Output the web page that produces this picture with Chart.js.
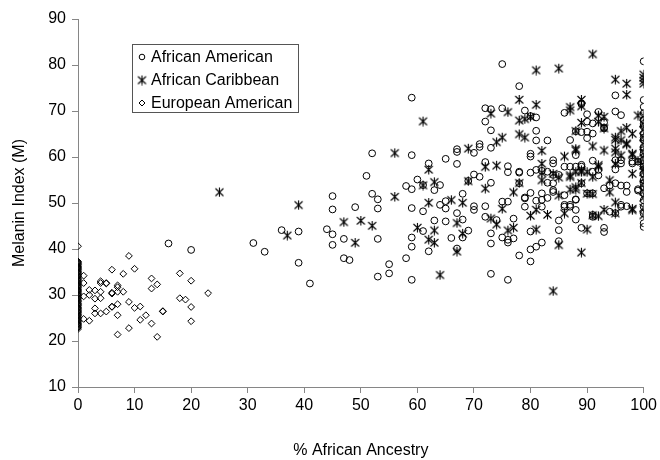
<!DOCTYPE html>
<html>
<head>
<meta charset="utf-8">
<script src="https://cdn.jsdelivr.net/npm/chart.js@4/dist/chart.umd.min.js"></script>
<style>
  html, body { margin: 0; padding: 0; background: #ffffff; }
  #wrap { width: 660px; height: 460px; position: relative; }
</style>
</head>
<body>
<div id="wrap"><canvas id="c" width="660" height="460"></canvas></div>
<script>
// ---- Data: [% African ancestry, Melanin index (M)] ----
const seriesNames = ["African American", "African Caribbean", "European American"];
const xTickValues = [0, 10, 20, 30, 40, 50, 60, 70, 80, 90, 100];
const yTickValues = [10, 20, 30, 40, 50, 60, 70, 80, 90];

const africanAmerican = [
  [16,41.2],[20,39.8],[31,41.3],[33,39.4],[36,44.1],[39,43.8],[39,37.0],[41,32.5],[44,44.3],
  [45,51.5],[45,48.6],[45,43.2],[45,40.9],[47,42.2],[47,38.0],[48,37.6],[49,49.1],[51,55.9],
  [52,60.8],[52,52.0],[53,50.8],[53,48.8],[53,42.2],[53,34.0],[55,36.7],[55,34.7],[58,38.0],
  [58,53.7],[59,72.9],[59,60.4],[59,53.0],[59,48.9],[59,42.5],[59,40.5],[59,33.3],[60,55.1],
  [61,48.2],[61,53.9],[61,43.9],[62,58.6],[62,39.5],[63,52.8],[63,46.2],[64,53.9],[64,49.6],
  [65,59.6],[65,50.4],[65,48.8],[65,46.0],[66,42.4],[67,61.7],[67,61.1],[67,58.5],[67,47.8],
  [67,40.1],[68,52.0],[68,46.4],[68,42.5],[69,54.8],[69,44.0],[70,60.9],[70,56.2],[70,49.3],
  [70,48.5],[71,62.8],[71,62.2],[71,55.7],[72,70.6],[72,67.7],[72,58.9],[72,49.3],[72,47.0],
  [73,70.4],[73,65.8],[73,62.0],[73,54.4],[73,43.4],[73,41.2],[73,34.6],[74,46.3],[75,80.2],
  [75,70.6],[75,50.3],[75,42.5],[76,58.0],[76,56.7],[76,50.3],[76,42.0],[76,41.4],[76,33.3],
  [77,46.6],[77,42.3],[78,75.4],[78,56.6],[78,38.6],[78,56.8],[78,54.3],[79,70.1],[79,51.2],
  [79,49.2],[79,51.0],[80,60.7],[80,60.1],[80,52.2],[80,43.8],[80,39.9],[80,37.3],[80,68.9],
  [80,56.6],[81,68.6],[81,65.7],[81,63.6],[81,50.5],[81,40.5],[81,57.2],[82,57.0],[82,52.1],
  [82,41.4],[82,50.7],[82,49.2],[83,63.6],[83,54.4],[83,51.1],[83,56.8],[84,59.3],[84,58.6],
  [84,52.4],[84,56.1],[84,54.3],[84,52.8],[85,46.2],[85,44.1],[85,41.7],[85,56.1],[86,69.6],
  [86,49.6],[86,57.9],[86,51.7],[86,49.2],[87,63.7],[87,57.9],[87,49.2],[87,49.6],[88,65.6],
  [88,60.4],[88,50.8],[88,46.4],[88,57.9],[88,48.5],[88,50.7],[89,71.5],[89,65.4],[89,57.9],
  [89,44.6],[89,58.3],[89,54.3],[89,71.7],[90,69.3],[90,64.1],[90,52.1],[90,65.5],[90,67.7],
  [91,67.3],[91,65.1],[91,59.2],[91,47.0],[91,56.8],[91,52.1],[91,47.4],[92,56.0],[92,57.2],
  [92,69.8],[93,66.4],[93,44.6],[93,43.7],[93,53.2],[93,67.5],[93,66.2],[94,53.8],[94,48.1],
  [95,73.4],[95,69.9],[95,59.3],[95,57.3],[95,47.8],[95,54.3],[96,69.1],[96,58.6],[96,53.8],
  [96,49.2],[96,49.6],[96,59.3],[97,53.8],[97,52.4],[97,49.3],[98,58.6],[98,59.0],[99,52.7],
  [99,59.0],[99,53.0],
  [100,80.8],[100,72.4],[100,70.9],[100,69.5],[100,68.0],[100,66.6],[100,65.1],[100,63.7],
  [100,62.2],[100,60.8],[100,59.3],[100,57.9],[100,56.4],[100,55.0],[100,53.5],[100,52.1],
  [100,50.6],[100,49.2],[100,47.7],[100,44.8],[100,61.5],[100,58.5],[100,64.2],[100,45.6],
  [100,67.2],[100,54.3]
];

const africanCaribbean = [
  [25,52.4],[37,43.0],[39,49.6],[47,45.9],[49,41.4],[50,46.2],[52,45.1],[56,60.9],[56,51.4],
  [60,44.7],[61,67.8],[61,53.9],[62,57.3],[62,50.1],[62,42.1],[63,54.6],[63,44.1],[63,41.4],
  [64,34.4],[66,50.7],[67,45.7],[67,39.5],[68,50.1],[68,43.4],[69,61.9],[69,54.8],[72,57.9],
  [72,53.2],[73,69.5],[73,46.7],[74,58.2],[74,45.4],[74,63.3],[75,64.3],[75,48.8],[76,69.8],
  [76,44.1],[77,52.4],[77,44.7],[78,72.5],[78,68.0],[78,65.0],[78,54.4],[79,64.3],[79,68.3],
  [80,68.8],[80,47.3],[81,78.9],[81,71.4],[81,48.6],[81,44.3],[82,61.4],[82,58.6],[82,55.0],
  [82,56.6],[83,47.5],[84,56.4],[84,30.9],[85,79.3],[85,55.6],[85,51.7],[85,40.9],[86,60.2],
  [86,47.8],[87,70.9],[87,55.7],[87,70.2],[87,53.0],[87,56.1],[88,65.7],[88,61.8],[88,53.0],
  [88,61.5],[88,56.8],[88,53.5],[89,72.5],[89,67.5],[89,56.8],[89,54.4],[89,39.3],[89,71.1],
  [89,57.2],[90,44.3],[90,56.8],[90,52.1],[91,82.4],[91,62.4],[91,55.7],[91,52.0],[91,47.4],
  [92,69.1],[92,57.9],[92,47.2],[92,67.7],[92,58.3],[93,61.5],[93,66.3],[93,48.6],[93,68.8],
  [94,55.0],[94,52.4],[95,76.9],[95,63.8],[95,61.1],[95,50.2],[95,47.8],[95,64.3],[95,61.9],
  [95,58.6],[96,63.7],[96,65.7],[96,60.4],[97,76.0],[97,73.6],[97,66.4],[97,62.8],[97,63.0],
  [98,65.1],[98,60.5],[98,56.4],[98,48.8],[98,48.5],[98,60.8],[99,69.1],[99,59.2],
  [100,78.0],[100,77.3],[100,76.6],[100,76.0],[100,69.0],[100,66.0],[100,64.4],[100,62.9],
  [100,61.0],[100,59.8],[100,58.2],[100,56.8],[100,55.4],[100,54.1],[100,52.6],[100,51.2],
  [100,49.0],[100,47.4],[100,57.3],[100,67.3]
];

const europeanAmerican = [
  [0,40.6],[0,37.3],[0,37.1],[0,36.9],[0,36.7],[0,36.5],[0,36.2],[0,36.0],[0,35.8],[0,35.6],
  [0,35.4],[0,35.1],[0,34.9],[0,34.7],[0,34.4],[0,34.2],[0,34.0],[0,33.7],[0,33.5],[0,33.3],
  [0,33.1],[0,32.8],[0,32.6],[0,32.4],[0,32.1],[0,31.9],[0,31.7],[0,31.5],[0,31.2],[0,31.0],
  [0,30.8],[0,30.6],[0,30.3],[0,30.1],[0,29.9],[0,29.6],[0,29.4],[0,29.2],[0,28.9],[0,28.7],
  [0,28.5],[0,28.2],[0,28.0],[0,27.8],[0,27.6],[0,27.3],[0,27.1],[0,26.9],[0,26.6],[0,26.4],
  [0,26.2],[0,25.9],[0,25.7],[0,25.5],[0,25.2],[0,25.0],[0,24.8],[0,24.5],[0,24.3],[0,24.1],
  [0,23.8],[0,23.6],[0,23.4],[0,23.1],[0,22.9],[0,22.6],
  [1,34.2],[1,32.6],[1,29.7],[1,24.8],[2,31.1],[2,30.0],[2,24.4],[3,31.0],[3,29.2],[3,27.1],
  [3,26.0],[4,33.0],[4,32.6],[4,30.7],[4,29.3],[4,26.0],[5,32.6],[5,32.5],[5,26.4],[6,35.5],
  [6,30.3],[6,30.5],[6,27.5],[6,27.4],[7,32.1],[7,31.7],[7,30.7],[7,28.0],[7,25.6],[7,21.4],
  [8,34.6],[8,30.7],[9,38.5],[9,28.5],[9,22.8],[10,35.7],[10,27.2],[11,27.5],[11,24.6],
  [12,25.6],[13,33.6],[13,31.4],[13,23.8],[14,32.3],[14,20.9],[15,26.4],[15,26.5],[18,34.7],
  [18,29.3],[19,29.0],[20,33.1],[20,27.4],[20,24.3],[23,30.4]
];

// ---- Marker for African Caribbean (X with a vertical bar) ----
function makeAsterisk() {
  const c = document.createElement('canvas');
  c.width = 11; c.height = 11;
  const g = c.getContext('2d');
  g.strokeStyle = '#000';
  g.lineWidth = 1.1;
  g.lineCap = 'butt';
  g.beginPath();
  g.moveTo(1.5, 2); g.lineTo(9.5, 9.5);
  g.moveTo(9.5, 2); g.lineTo(1.5, 9.5);
  g.moveTo(5.5, 1); g.lineTo(5.5, 10.5);
  g.stroke();
  return c;
}
const asterisk = makeAsterisk();

const FONT = '"Liberation Sans", Arial, sans-serif';
const AXIS_GREY = '#868686';

function toPoints(arr) { return arr.map(p => ({ x: p[0], y: p[1] })); }

const legendBox = {
  id: 'legendBox',
  afterDraw(chart) {
    const ctx = chart.ctx;
    ctx.save();
    ctx.strokeStyle = '#555';
    ctx.lineWidth = 1;
    ctx.strokeRect(132.5, 44.5, 166, 68);
    ctx.font = '16px ' + FONT;
    ctx.fillStyle = '#000';
    ctx.textBaseline = 'middle';
    const rows = [57, 80, 103];
    const mx = 142;
    ctx.strokeStyle = '#000';
    ctx.beginPath();
    ctx.arc(mx, rows[0], 2.8, 0, Math.PI * 2);
    ctx.stroke();
    ctx.drawImage(asterisk, mx - 5.5, rows[1] - 5.5);
    ctx.beginPath();
    ctx.moveTo(mx, rows[2] - 3);
    ctx.lineTo(mx + 3, rows[2]);
    ctx.lineTo(mx, rows[2] + 3);
    ctx.lineTo(mx - 3, rows[2]);
    ctx.closePath();
    ctx.stroke();
    seriesNames.forEach((n, i) => ctx.fillText(n, 151, rows[i] + 1));
    ctx.restore();
  }
};

new Chart(document.getElementById('c'), {
  type: 'scatter',
  data: {
    datasets: [
      {
        label: seriesNames[0],
        data: toPoints(africanAmerican),
        pointStyle: 'circle',
        pointRadius: 3.4,
        borderColor: '#000',
        backgroundColor: 'rgba(0,0,0,0)',
        borderWidth: 1
      },
      {
        label: seriesNames[1],
        data: toPoints(africanCaribbean),
        pointStyle: asterisk,
        pointRadius: 5,
        borderColor: '#000',
        backgroundColor: 'rgba(0,0,0,0)',
        borderWidth: 1
      },
      {
        label: seriesNames[2],
        data: toPoints(europeanAmerican),
        pointStyle: 'rectRot',
        pointRadius: 3.4,
        borderColor: '#000',
        backgroundColor: 'rgba(0,0,0,0)',
        borderWidth: 1
      }
    ]
  },
  options: {
    responsive: false,
    animation: false,
    events: [],
    layout: { padding: { left: 0, right: 13, top: 19, bottom: 0 } },
    plugins: {
      legend: { display: false },
      tooltip: { enabled: false }
    },
    scales: {
      x: {
        type: 'linear',
        min: 0, max: 100,
        afterBuildTicks(scale) { scale.ticks = xTickValues.map(v => ({ value: v })); },
        afterFit(scale) { scale.height = 73; },
        border: { display: true, color: AXIS_GREY, width: 1 },
        grid: { display: true, drawOnChartArea: false, drawTicks: true, tickLength: 6, color: AXIS_GREY },
        ticks: { color: '#000', font: { family: FONT, size: 16 }, padding: 3, maxRotation: 0 },
        title: { display: true, text: '% African Ancestry', color: '#000', font: { family: FONT, size: 16 }, padding: { top: 0, bottom: 0 } }
      },
      y: {
        type: 'linear',
        min: 10, max: 90,
        afterBuildTicks(scale) { scale.ticks = yTickValues.map(v => ({ value: v })); },
        afterFit(scale) { scale.width = 78; },
        border: { display: true, color: AXIS_GREY, width: 1 },
        grid: { display: true, drawOnChartArea: false, drawTicks: true, tickLength: 6, color: AXIS_GREY },
        ticks: { color: '#000', font: { family: FONT, size: 16 }, padding: 6 },
        title: { display: true, text: 'Melanin Index (M)', color: '#000', font: { family: FONT, size: 16 }, padding: { top: 10, bottom: 0 } }
      }
    }
  },
  plugins: [legendBox]
});
</script>
</body>
</html>
